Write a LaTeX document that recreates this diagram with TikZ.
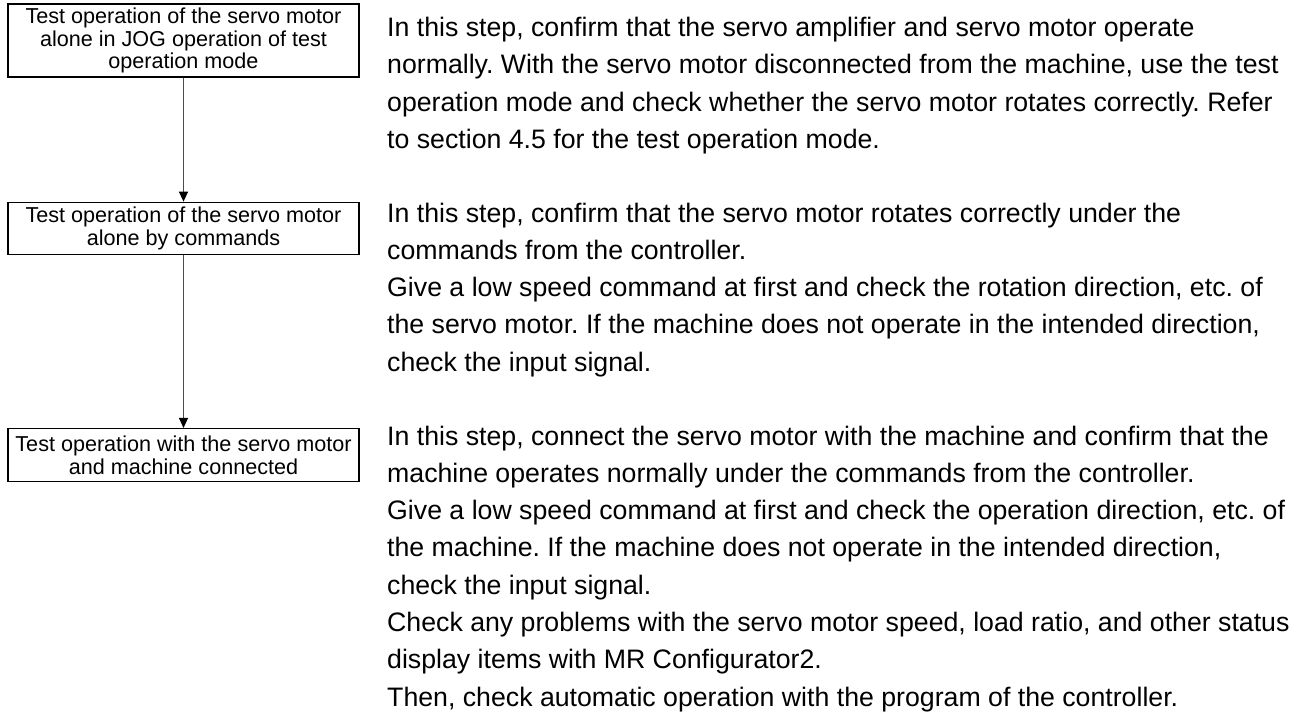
\documentclass[tikz,border=0pt]{standalone}
\usepackage{fontspec}
\setmainfont{Liberation Sans}
\frenchspacing
\usetikzlibrary{arrows.meta, positioning}

\begin{document}
\begin{tikzpicture}[
  x=1pt, y=1pt,
  stepbox/.style={rectangle, draw=black, line width=1.3pt, minimum width=351pt, align=center, inner sep=0pt, font=\fontsize{21.6}{22.5}\selectfont},
  note/.style={anchor=north west, align=left, inner sep=0pt, font=\fontsize{26.7}{37.3}\selectfont},
  arrow/.style={-{Triangle[length=10pt, width=9pt, color=black]}, draw=black!70, line width=1.2pt}
]
\useasboundingbox (0,0) rectangle (1301,-714);

\node[stepbox, minimum height=73pt] (jog) at (183.5,-40.5) {Test operation of the servo motor \\ alone in JOG operation of test \\ operation mode};
\node[stepbox, minimum height=52pt, below=124pt of jog] (cmd) {Test operation of the servo motor \\ alone by commands};
\node[stepbox, minimum height=53pt, below=173pt of cmd] (machine) {Test operation with the servo motor \\ and machine connected};

\node[note] (jognote) at (387,-17) {In this step, confirm that the servo amplifier and servo motor operate \\ normally. With the servo motor disconnected from the machine, use the test \\ operation mode and check whether the servo motor rotates correctly. Refer \\ to section 4.5 for the test operation mode.};
\node[note] (cmdnote) at (387,-202.5) {In this step, confirm that the servo motor rotates correctly under the \\ commands from the controller. \\ Give a low speed command at first and check the rotation direction, etc. of \\ the servo motor. If the machine does not operate in the intended direction, \\ check the input signal.};
\node[note] (machinenote) at (387,-425.5) {In this step, connect the servo motor with the machine and confirm that the \\ machine operates normally under the commands from the controller. \\ Give a low speed command at first and check the operation direction, etc. of \\ the machine. If the machine does not operate in the intended direction, \\ check the input signal. \\ Check any problems with the servo motor speed, load ratio, and other status \\ display items with MR Configurator2. \\ Then, check automatic operation with the program of the controller.};

\draw[arrow] (jog) -- (cmd);
\draw[arrow] (cmd) -- (machine);

\end{tikzpicture}
\end{document}
